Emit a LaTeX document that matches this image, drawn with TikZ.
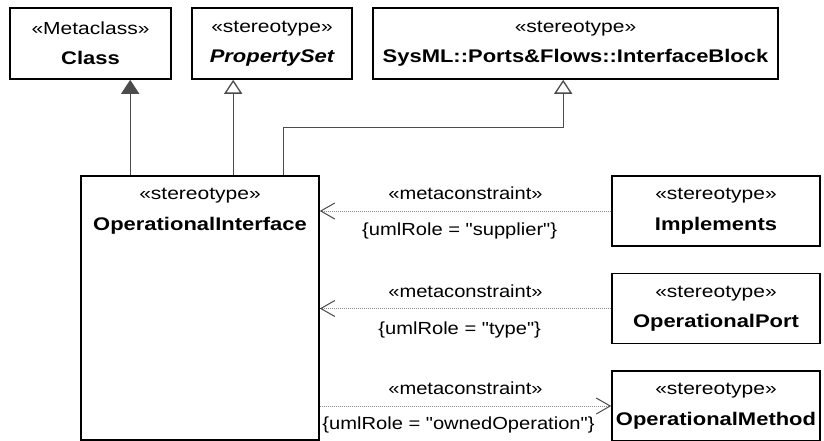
\documentclass[tikz,border=0pt]{standalone}
\usepackage{fontspec}
\setmainfont{Liberation Sans}[FakeStretch=1.2]
\newfontfamily\lblfont{Liberation Sans}[FakeStretch=1.15]
\usetikzlibrary{arrows.meta}

\newcommand{\stereo}[2]{«#1»\\{\fontsize{18.3}{30.5}\selectfont\bfseries #2}}

\begin{document}
\begin{tikzpicture}[x=1pt, y=-1pt,
    umlbox/.style={draw, line width=1.6pt, align=center, inner sep=2pt,
      minimum height=70pt, font=\fontsize{17.5}{30.5}\selectfont},
    gen/.style={draw=black!70, line width=1.3pt,
      -{Triangle[length=14pt,width=18pt,open,fill=white]}},
    genfill/.style={draw=black!70, line width=1.3pt,
      -{Triangle[length=14pt,width=18pt,fill=black!70]}},
    dep/.style={draw=black!45, line width=1pt, dash pattern=on 1pt off 1pt,
      -{Straight Barb[length=14pt,width=16pt,color=black!70]}},
    tag/.style={font=\lblfont\fontsize{17.5}{20}\selectfont}]
    \useasboundingbox (0,0) rectangle (824,441);

    % Metaclass and stereotypes on top
    \node[umlbox, minimum width=161pt, minimum height=71pt] (cls) at (90.5,43.5) {\stereo{Metaclass}{Class}};
    \node[umlbox, minimum width=160pt, minimum height=71pt] (pset) at (272,43.5) {\stereo{stereotype}{\itshape PropertySet}};
    \node[umlbox, minimum width=405pt, minimum height=71pt] (iblock) at (575.5,43.5) {\stereo{stereotype}{SysML::Ports\&Flows::InterfaceBlock}};

    % Main stereotype
    \node[draw, line width=1.6pt, minimum width=238pt, minimum height=264pt,
      label={[umlbox, draw=none, anchor=north]north:{\stereo{stereotype}{OperationalInterface}}}] (oi) at (200,308) {};

    % Stereotypes on the right
    \node[umlbox, minimum width=208pt] (impl) at (716,211) {\stereo{stereotype}{Implements}};
    \node[umlbox, minimum width=208pt] (oport) at (716,308.5) {\stereo{stereotype}{OperationalPort}};
    \node[umlbox, minimum width=208pt] (ometh) at (716,406) {\stereo{stereotype}{OperationalMethod}};

    % Generalizations
    \coordinate (g1) at ([xshift=50pt]oi.north west);
    \coordinate (g2) at ([xshift=153pt]oi.north west);
    \coordinate (g3) at ([xshift=203pt]oi.north west);
    \coordinate (g3t) at ([xshift=191pt]iblock.south west);
    \draw[genfill] (g1) -- (g1 |- cls.south);
    \draw[gen] (g2) -- (g2 |- pset.south);
    \draw[gen] (g3) -- ++(0,-48) -| (g3t);

    % Metaconstraints
    \draw[dep] (impl.west) -- (impl.west -| oi.east)
      node[tag, pos=0.5, yshift=18pt] {«metaconstraint»}
      node[tag, pos=0.52, yshift=-20pt] {\{umlRole = "supplier"\}};
    \draw[dep] (oport.west) -- (oport.west -| oi.east)
      node[tag, pos=0.5, yshift=17pt] {«metaconstraint»}
      node[tag, pos=0.52, yshift=-21pt] {\{umlRole = "type"\}};
    \draw[dep] (ometh.west -| oi.east) -- (ometh.west)
      node[tag, pos=0.5, yshift=18pt] {«metaconstraint»}
      node[tag, pos=0.476, yshift=-19pt] {\{umlRole = "ownedOperation"\}};
\end{tikzpicture}
\end{document}
